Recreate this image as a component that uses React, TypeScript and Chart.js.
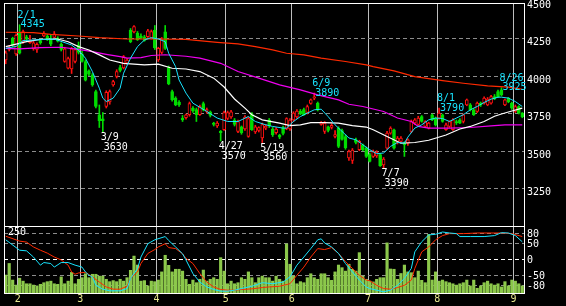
import React, { useEffect, useRef } from 'react';
import { Chart, registerables } from 'chart.js';

Chart.register(...registerables);

// ---- daily candles (index 0 = last days of January) ----
const open = [
  4110, 4180, 4255, 4150, 4290, 4230, 4265, 4225, 4185, 4180,
  4240, 4270, 4270, 4250, 4260, 4255, 4215, 4100, 4055, 4050,
  4100, 4210, 4150, 4100, 4037, 4011, 3900, 3745, 3718, 3800,
  3830, 3944, 4000, 4060, 4057, 4090, 4310, 4298, 4290, 4270,
  4265, 4265, 4255, 4310, 4110, 4160, 4298, 4060, 3900, 3856,
  3830, 3723, 3725, 3745, 3790, 3780, 3745, 3820, 3767, 3765,
  3690, 3670, 3635, 3645, 3720, 3730, 3710, 3634, 3665, 3650,
  3600, 3750, 3630, 3640, 3590, 3655, 3710, 3650, 3625, 3610,
  3660, 3650, 3650, 3710, 3730, 3770, 3780, 3760, 3820, 3855,
  3822, 3680, 3634, 3665, 3660, 3600, 3656, 3640, 3600, 3457,
  3440, 3578, 3512, 3545, 3523, 3479, 3467, 3470, 3479, 3410,
  3523, 3623, 3645, 3560, 3567, 3556, 3556, 3634, 3690, 3680,
  3733, 3667, 3656, 3745, 3723, 3723, 3745, 3645, 3667, 3645,
  3700, 3711, 3700, 3811, 3811, 3778, 3767, 3822, 3822, 3811,
  3822, 3866, 3900, 3911, 3811, 3856, 3822, 3767, 3800, 3756,
];
const high = [
  4170, 4205, 4262, 4285, 4345, 4310, 4275, 4275, 4235, 4225,
  4250, 4300, 4280, 4275, 4300, 4265, 4225, 4195, 4130, 4195,
  4190, 4230, 4170, 4110, 4045, 4020, 3910, 3810, 3760, 3905,
  3910, 3975, 4045, 4075, 4140, 4120, 4320, 4340, 4300, 4285,
  4275, 4315, 4310, 4340, 4195, 4260, 4340, 4070, 3910, 3865,
  3840, 3740, 3750, 3830, 3800, 3790, 3810, 3830, 3790, 3770,
  3695, 3700, 3640, 3770, 3770, 3775, 3720, 3710, 3670, 3740,
  3730, 3760, 3675, 3665, 3690, 3680, 3720, 3660, 3660, 3615,
  3670, 3725, 3720, 3765, 3780, 3780, 3790, 3810, 3850, 3890,
  3830, 3700, 3700, 3670, 3685, 3640, 3665, 3650, 3610, 3510,
  3520, 3590, 3575, 3550, 3530, 3490, 3510, 3505, 3485, 3460,
  3635, 3665, 3650, 3600, 3600, 3565, 3585, 3710, 3720, 3735,
  3740, 3705, 3695, 3750, 3730, 3790, 3750, 3690, 3705, 3720,
  3710, 3720, 3750, 3850, 3820, 3785, 3830, 3830, 3865, 3860,
  3875, 3880, 3910, 3925, 3850, 3860, 3830, 3810, 3805, 3760,
];
const low = [
  4085, 4170, 4200, 4140, 4150, 4220, 4240, 4220, 4175, 4160,
  4215, 4265, 4240, 4205, 4255, 4230, 4170, 4095, 4050, 4020,
  4090, 4150, 4095, 3970, 4005, 3935, 3790, 3660, 3630, 3790,
  3815, 3935, 3990, 4030, 4050, 4080, 4225, 4290, 4240, 4250,
  4235, 4260, 4250, 4180, 4100, 4150, 4180, 3945, 3835, 3805,
  3800, 3700, 3715, 3735, 3760, 3700, 3740, 3770, 3755, 3730,
  3670, 3660, 3570, 3640, 3710, 3720, 3670, 3625, 3615, 3640,
  3595, 3640, 3620, 3630, 3560, 3645, 3660, 3600, 3615, 3585,
  3610, 3645, 3640, 3700, 3720, 3745, 3740, 3750, 3815, 3845,
  3770, 3675, 3620, 3630, 3650, 3590, 3525, 3575, 3515, 3440,
  3420, 3550, 3505, 3505, 3460, 3430, 3460, 3460, 3400, 3390,
  3515, 3615, 3515, 3550, 3560, 3467, 3540, 3625, 3680, 3675,
  3695, 3660, 3650, 3705, 3670, 3715, 3695, 3640, 3660, 3640,
  3680, 3685, 3690, 3805, 3770, 3740, 3760, 3800, 3815, 3805,
  3815, 3845, 3860, 3870, 3805, 3825, 3780, 3760, 3750, 3725,
];
const close = [
  4157, 4195, 4210, 4275, 4155, 4300, 4250, 4240, 4225, 4215,
  4225, 4290, 4250, 4215, 4285, 4235, 4180, 4185, 4120, 4185,
  4180, 4160, 4100, 3975, 4015, 3944, 3800, 3705, 3705, 3895,
  3900, 3966, 4033, 4040, 4132, 4110, 4232, 4332, 4245, 4255,
  4240, 4305, 4300, 4190, 4188, 4250, 4188, 3950, 3845, 3811,
  3810, 3711, 3745, 3820, 3770, 3745, 3800, 3778, 3780, 3740,
  3680, 3690, 3625, 3760, 3760, 3765, 3680, 3700, 3625, 3730,
  3720, 3645, 3665, 3660, 3680, 3670, 3670, 3612, 3650, 3595,
  3620, 3720, 3710, 3756, 3770, 3750, 3745, 3800, 3845, 3865,
  3778, 3690, 3690, 3640, 3675, 3612, 3534, 3580, 3525, 3500,
  3510, 3560, 3567, 3512, 3467, 3434, 3500, 3495, 3405, 3450,
  3623, 3656, 3523, 3590, 3590, 3545, 3578, 3700, 3711, 3723,
  3700, 3700, 3689, 3711, 3678, 3756, 3700, 3678, 3700, 3711,
  3690, 3689, 3745, 3844, 3778, 3745, 3822, 3811, 3856, 3850,
  3866, 3850, 3866, 3878, 3844, 3833, 3789, 3800, 3756, 3733,
];
const volume = [
  68, 112, 49, 30, 56, 45, 35, 35, 30, 27,
  33, 39, 43, 45, 35, 33, 61, 35, 45, 78,
  35, 52, 58, 73, 58, 71, 71, 64, 64, 52,
  43, 47, 43, 52, 45, 58, 86, 140, 106, 45,
  47, 27, 45, 43, 49, 80, 143, 105, 80, 90,
  90, 83, 52, 33, 49, 39, 52, 87, 45, 52,
  58, 52, 134, 83, 35, 45, 35, 39, 58, 52,
  80, 58, 39, 58, 64, 58, 58, 45, 64, 52,
  45, 186, 109, 64, 35, 43, 39, 58, 73, 58,
  52, 73, 73, 58, 48, 80, 106, 96, 83, 109,
  90, 83, 153, 64, 52, 45, 42, 52, 58, 58,
  190, 91, 90, 52, 74, 106, 80, 77, 58, 83,
  48, 39, 222, 49, 80, 45, 49, 43, 39, 35,
  30, 35, 39, 49, 27, 49, 18, 27, 39, 45,
  35, 30, 35, 23, 43, 27, 49, 45, 35, 27,
];

// ---- moving-average lines: [day index, price] ----
const shortAvg: [number, number][] = [
  [0, 4188], [3, 4200], [5, 4240], [14, 4250], [19, 4210], [21, 4175], [23, 4122], [25, 4033],
  [27, 3922], [28, 3856], [29, 3833], [31, 3856], [33, 3922], [34, 4022], [36, 4122], [38, 4199],
  [40, 4243], [42, 4259], [44, 4250], [46, 4232], [47, 4155], [49, 4066], [50, 3977], [52, 3889],
  [54, 3822], [58, 3767], [61, 3723], [64, 3700], [67, 3700], [70, 3733], [72, 3700], [75, 3678],
  [77, 3667], [80, 3656], [81, 3656], [83, 3700], [85, 3733], [87, 3756], [89, 3778], [91, 3782],
  [93, 3733], [95, 3678], [97, 3634], [99, 3590], [101, 3578], [103, 3545], [105, 3512], [107, 3485],
  [109, 3490], [111, 3534], [113, 3560], [115, 3556], [116, 3596], [118, 3656], [120, 3678],
  [122, 3711], [124, 3723], [126, 3720], [128, 3700], [130, 3723], [132, 3745], [134, 3778],
  [136, 3800], [138, 3827], [140, 3849], [142, 3862], [143, 3862], [145, 3856], [147, 3833], [149, 3800],
];
const midAvg: [number, number][] = [
  [0, 4199], [6, 4232], [10, 4248], [15, 4250], [18, 4232], [21, 4199], [24, 4177], [27, 4144],
  [30, 4110], [34, 4088], [40, 4077], [44, 4082], [48, 4055], [52, 4050], [56, 4033], [60, 3989],
  [63, 3930], [66, 3850], [69, 3789], [71, 3745], [74, 3711], [79, 3689], [82, 3672], [85, 3678],
  [88, 3693], [92, 3693], [96, 3689], [100, 3672], [104, 3663], [106, 3645], [110, 3600], [114, 3555],
  [118, 3560], [122, 3575], [127, 3610], [131, 3650], [134, 3667], [138, 3700], [141, 3735],
  [143, 3750], [146, 3770], [149, 3789],
];
const longAvg: [number, number][] = [
  [0, 4188], [4, 4184], [10, 4192], [16, 4195], [21, 4181], [25, 4166], [29, 4148], [33, 4132],
  [35, 4122], [39, 4126], [42, 4140], [46, 4145], [52, 4135], [56, 4122], [62, 4088], [67, 4033],
  [73, 3989], [79, 3944], [85, 3911], [90, 3878], [96, 3844], [99, 3815], [103, 3800], [109, 3767],
  [113, 3723], [117, 3700], [119, 3667], [122, 3656], [128, 3656], [134, 3660], [140, 3671],
  [144, 3678], [149, 3678],
];
const trendAvg: [number, number][] = [
  [0, 4295], [8, 4293], [13, 4281], [21, 4270], [27, 4259], [35, 4250], [43, 4250], [52, 4248],
  [61, 4228], [67, 4217], [72, 4199], [77, 4177], [81, 4155], [86, 4144], [91, 4122], [98, 4100],
  [104, 4077], [106, 4066], [112, 4037], [118, 3999], [126, 3973], [132, 3955], [139, 3937],
  [145, 3929], [149, 3915],
];

// ---- oscillator lines (lower panel): [day index, value] ----
const oscFast: [number, number][] = [
  [0, 60], [4, 28], [6, 26], [8, 7], [10, -18], [11, -10], [13, -13], [14, -24], [16, -10], [18, -10],
  [20, -18], [22, -24], [23, -39], [24, -49], [25, -54], [26, -80], [28, -92], [30, -97], [33, -97],
  [35, -90], [36, -59], [38, -29], [39, 7], [41, 48], [43, 60], [46, 70], [47, 58], [49, 38], [51, 17],
  [52, -2], [54, -44], [56, -70], [58, -85], [60, -93], [62, -98], [64, -98], [66, -95], [68, -90],
  [71, -83], [74, -72], [77, -75], [80, -70], [82, -54], [84, -18], [86, 7], [88, 33], [90, 60],
  [91, 63], [92, 50], [94, 38], [96, 18], [98, -13], [100, -39], [102, -64], [104, -85], [105, -90],
  [107, -95], [109, -100], [111, -95], [113, -80], [115, -59], [117, -28], [118, 23], [120, 54],
  [122, 75], [124, 77], [126, 84], [128, 81], [130, 79], [131, 70], [134, 70], [138, 70], [141, 73],
  [143, 82], [145, 81], [147, 73], [149, 54],
];
const oscSlow: [number, number][] = [
  [0, 71], [4, 56], [6, 53], [8, 38], [10, 28], [12, 19], [14, 7], [16, -2], [18, -18], [19, -39],
  [20, -46], [21, -42], [23, -40], [25, -54], [27, -70], [29, -85], [31, -92], [33, -92], [35, -83],
  [36, -59], [38, -39], [39, -13], [41, 18], [43, 30], [44, 38], [46, 48], [47, 36], [49, 33],
  [51, 17], [52, 3], [54, -13], [56, -44], [58, -70], [60, -85], [62, -93], [64, -95], [66, -95],
  [68, -93], [71, -91], [74, -87], [76, -85], [79, -83], [82, -75], [84, -49], [86, -24], [88, 7],
  [90, 33], [92, 30], [94, 36], [96, 18], [98, -7], [100, -28], [102, -49], [104, -64], [105, -66],
  [107, -80], [109, -90], [111, -92], [113, -87], [115, -80], [117, -64], [118, -28], [120, 23],
  [122, 38], [124, 60], [126, 73], [128, 79], [132, 79], [136, 81], [140, 81], [143, 81], [146, 79],
  [149, 70],
];

// ---- axes & annotations ----
const monthStartIndex = [4, 22, 44, 64, 83, 105, 125, 147];
const monthLabels = ['2', '3', '4', '5', '6', '7', '8', '9'];
const priceTicks = [4500, 4250, 4000, 3750, 3500, 3250];
const oscTicks = [80, 50, 0, -50, -80];
const volumeMaxLabel = '250';

const markIndex = [4, 28, 62, 74, 89, 109, 125, 143];
const markDate = ['2/1', '3/9', '4/27', '5/19', '6/9', '7/7', '8/1', '8/26'];
const markValue = [4345, 3630, 3570, 3560, 3890, 3390, 3790, 3925];
const markIsHigh = [true, false, false, false, true, false, true, true];

const N = open.length;
const FONT = '10px "DejaVu Sans Mono", monospace';
const RED = '#ff1010';
const GREEN = '#00dc00';
const CYAN = '#18e4ff';
const MAGENTA = '#f000f0';
const TREND = '#ff2a00';
const VOL = '#8cc84b';

function xAxis() {
  return {
    type: 'linear' as const,
    min: -0.5,
    max: N - 0.5,
    offset: false,
    afterBuildTicks: (s: any) => {
      s.ticks = monthStartIndex.map((i) => ({ value: i - 0.5 }));
    },
    afterFit: (s: any) => {
      s.height = 0;
    },
    grid: { color: '#bdbdbd', lineWidth: 1, drawTicks: false, offset: false },
    border: { display: false },
    ticks: { display: false },
  };
}

function lineSet(pts: [number, number][], color: string, width: number, axis = 'y') {
  return {
    type: 'line' as const,
    data: pts.map(([x, y]) => ({ x, y })),
    borderColor: color,
    borderWidth: width,
    pointRadius: 0,
    tension: 0,
    fill: false,
    yAxisID: axis,
  };
}

function frame(ctx: CanvasRenderingContext2D, a: any) {
  ctx.strokeStyle = '#ffffff';
  ctx.lineWidth = 1;
  ctx.strokeRect(
    Math.round(a.left) + 0.5,
    Math.round(a.top) + 0.5,
    Math.round(a.right - a.left),
    Math.round(a.bottom - a.top)
  );
}

const mainDecor = {
  id: 'mainDecor',
  afterDraw(chart: any) {
    const { ctx, chartArea: a, scales } = chart;
    const xs = scales.x;
    const ys = scales.y;
    ctx.save();
    frame(ctx, a);
    ctx.font = FONT;
    ctx.textAlign = 'left';
    ctx.textBaseline = 'alphabetic';
    ctx.fillStyle = '#ffffff';
    priceTicks.forEach((v) => ctx.fillText(String(v), a.right + 3, ys.getPixelForValue(v) + 6.3));
    markIndex.forEach((idx, k) => {
      const px = xs.getPixelForValue(idx);
      const py = ys.getPixelForValue(markValue[k]);
      ctx.fillStyle = markIsHigh[k] ? CYAN : '#ffffff';
      if (markIsHigh[k]) {
        ctx.fillText(markDate[k], px - 2, py - 7);
        ctx.fillText(String(markValue[k]), px + 1, py + 2.75);
      } else {
        ctx.fillText(markDate[k], px - 2, py + 8.5);
        ctx.fillText(String(markValue[k]), px + 1, py + 18);
      }
    });
    ctx.restore();
  },
};

const subDecor = {
  id: 'subDecor',
  afterDraw(chart: any) {
    const { ctx, chartArea: a, scales } = chart;
    ctx.save();
    frame(ctx, a);
    ctx.font = FONT;
    ctx.textAlign = 'left';
    ctx.textBaseline = 'alphabetic';
    ctx.fillStyle = '#ffffff';
    oscTicks.forEach((v) => ctx.fillText(String(v), a.right + 3, scales.y.getPixelForValue(v) + 3.6));
    ctx.fillText(volumeMaxLabel, a.left + 4, a.top + 9);
    ctx.fillStyle = '#e8e890';
    ctx.textAlign = 'center';
    monthStartIndex.forEach((i, k) =>
      ctx.fillText(monthLabels[k], scales.x.getPixelForValue(i - 0.5), a.bottom + 9)
    );
    ctx.restore();
  },
};

export default function App() {
  const mainRef = useRef<HTMLCanvasElement>(null);
  const subRef = useRef<HTMLCanvasElement>(null);

  useEffect(() => {
    const idx = open.map((_, i) => i);
    const up = idx.map((i) => close[i] >= open[i]);

    const main = new Chart(mainRef.current as HTMLCanvasElement, {
      type: 'bar',
      data: {
        datasets: [
          lineSet(shortAvg, CYAN, 1),
          lineSet(midAvg, '#ffffff', 1.2),
          lineSet(longAvg, MAGENTA, 1.2),
          lineSet(trendAvg, TREND, 1.2),
          {
            type: 'bar' as const,
            data: idx.map((i) => ({ x: i, y: [open[i], close[i]] })) as any,
            backgroundColor: idx.map((i) => (up[i] ? '#000000' : GREEN)),
            borderColor: idx.map((i) => (up[i] ? RED : GREEN)),
            borderWidth: 1,
            borderSkipped: false,
            barThickness: 3,
            grouped: false,
          } as any,
          {
            type: 'bar' as const,
            data: idx.map((i) => ({
              x: i,
              y: [Math.min(low[i], open[i], close[i]), Math.max(high[i], open[i], close[i])],
            })) as any,
            backgroundColor: idx.map((i) => (up[i] ? RED : GREEN)),
            borderWidth: 0,
            barThickness: 1,
            grouped: false,
          } as any,
        ],
      },
      options: {
        responsive: false,
        animation: false,
        events: [],
        layout: { padding: { left: 4, top: 3, right: 0, bottom: 2 } },
        plugins: { legend: { display: false }, tooltip: { enabled: false } },
        scales: {
          x: xAxis() as any,
          y: {
            type: 'linear',
            position: 'right',
            min: 3003.3,
            max: 4490,
            afterBuildTicks: (s: any) => {
              s.ticks = priceTicks.filter((v) => v < 4490).map((v) => ({ value: v }));
            },
            afterFit: (s: any) => {
              s.width = 42;
            },
            grid: { color: '#8c8c8c', lineWidth: 1, drawTicks: false },
            border: { display: false, dash: [4, 3] },
            ticks: { display: false },
          } as any,
        },
      },
      plugins: [mainDecor],
    });

    const sub = new Chart(subRef.current as HTMLCanvasElement, {
      type: 'bar',
      data: {
        datasets: [
          lineSet(oscFast, CYAN, 1),
          lineSet(oscSlow, TREND, 1),
          {
            type: 'bar' as const,
            data: idx.map((i) => ({ x: i, y: volume[i] })) as any,
            backgroundColor: VOL,
            borderWidth: 0,
            barThickness: 2.5,
            grouped: false,
            yAxisID: 'yv',
          } as any,
        ],
      },
      options: {
        responsive: false,
        animation: false,
        events: [],
        layout: { padding: { left: 4, top: 2, right: 0, bottom: 13 } },
        plugins: { legend: { display: false }, tooltip: { enabled: false } },
        scales: {
          x: xAxis() as any,
          y: {
            type: 'linear',
            position: 'right',
            min: -103.7,
            max: 102.5,
            afterBuildTicks: (s: any) => {
              s.ticks = oscTicks.map((v) => ({ value: v }));
            },
            afterFit: (s: any) => {
              s.width = 42;
            },
            grid: {
              color: (c: any) => (c.tick && c.tick.value === 0 ? '#ffffff' : '#8c8c8c'),
              lineWidth: 1,
              drawTicks: false,
            },
            border: { display: false, dash: [4, 3] },
            ticks: { display: false },
          } as any,
          yv: {
            type: 'linear',
            position: 'left',
            display: false,
            min: 0,
            max: 254,
          } as any,
        },
      },
      plugins: [subDecor],
    });

    return () => {
      main.destroy();
      sub.destroy();
    };
  }, []);

  return (
    <div style={{ position: 'fixed', left: 0, top: 0, width: 566, height: 306, background: '#000000', overflow: 'hidden' }}>
      <canvas ref={mainRef} width={566} height={228} style={{ position: 'absolute', left: 0, top: 0, width: 566, height: 228 }} />
      <canvas ref={subRef} width={566} height={82} style={{ position: 'absolute', left: 0, top: 224, width: 566, height: 82 }} />
    </div>
  );
}
